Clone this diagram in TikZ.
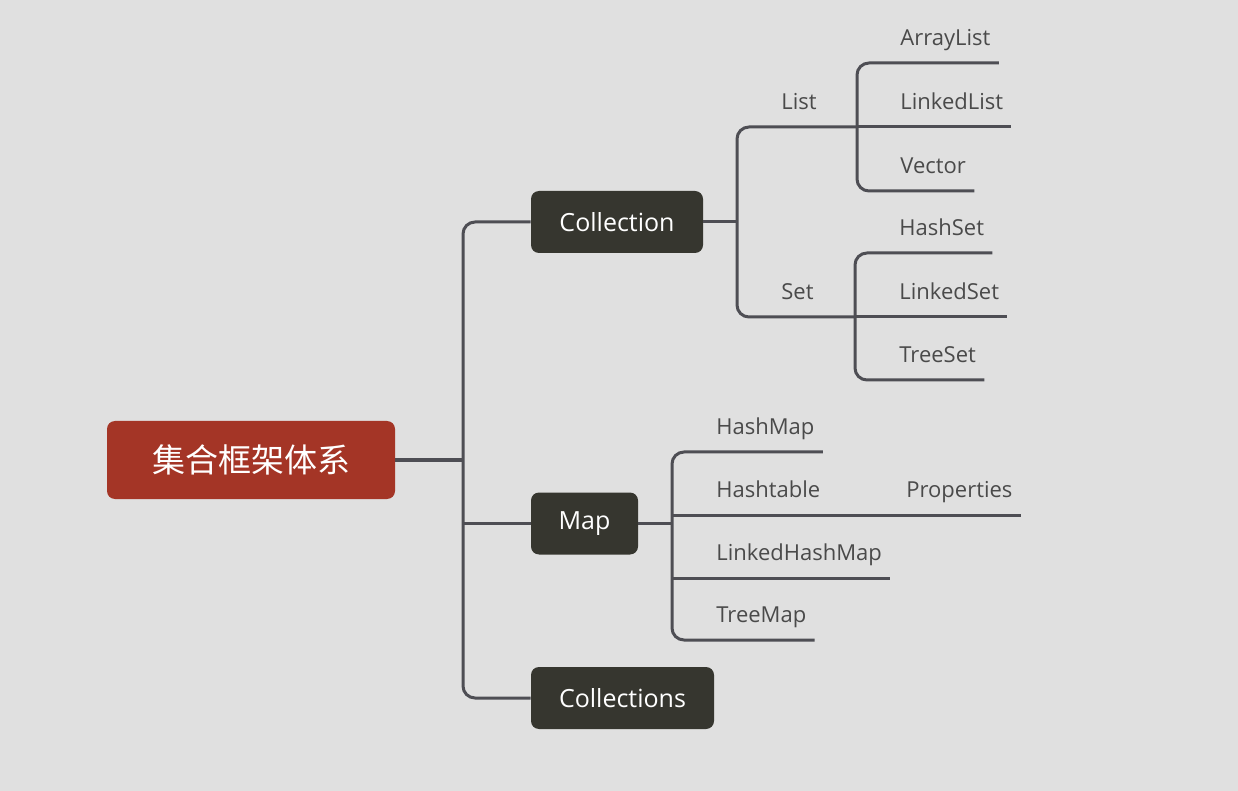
\documentclass[tikz,border=0pt]{standalone}
\usepackage{fontspec}
\setmainfont{Open Sans}
\newfontfamily\cjkfont{Noto Sans CJK SC}
\definecolor{bg}{HTML}{E0E0E0}
\definecolor{rootred}{HTML}{A43526}
\definecolor{topicgray}{HTML}{36362F}
\definecolor{branch}{HTML}{4E4E54}
\definecolor{leaftext}{HTML}{4A4A4A}
\tikzset{
	conn/.style={draw=branch, line width=1.5pt, rounded corners=6pt},
	rootbox/.style={fill=rootred, text=white, rounded corners=4pt, minimum width=144pt, minimum height=39pt, font=\cjkfont\fontsize{16.5}{18}\selectfont},
	topicbox/.style={fill=topicgray, text=white, rounded corners=4pt, minimum height=31pt, font=\fontsize{12.5}{14}\selectfont},
	leaf/.style={anchor=south west, inner xsep=4pt, inner ysep=8.5pt, text depth=0pt, text=leaftext, font=\fontsize{11}{13}\selectfont},
}
\begin{document}
\begin{tikzpicture}[x=0.5pt, y=-0.5pt]
	\fill[bg] (0,0) rectangle (1238,791);
	\useasboundingbox (0,0) rectangle (1238,791);
	% junctions
	\coordinate (rj) at (463,460);
	\coordinate (cj) at (737,222);
	\coordinate (lj) at (857,127);
	\coordinate (sj) at (855,317);
	\coordinate (mj) at (672,523.5);
	% main topics
	\node[rootbox] (root) at (251,460) {集合框架体系};
	\node[topicbox, minimum width=86pt] (coll) at (617,222) {Collection};
	\node[topicbox, minimum width=53.5pt] (map) at (584.5,523.5) {Map};
	\node[topicbox, minimum width=91.5pt] (colls) at (622.5,698) {Collections};
	% subtopics
	\node[leaf] (list) at (773,127) {List};
	\node[leaf] (set) at (773,317) {Set};
	\node[leaf] (al) at (892,63) {ArrayList};
	\node[leaf] (ll) at (892,127) {LinkedList};
	\node[leaf] (vec) at (892,191) {Vector};
	\node[leaf] (hs) at (891,253) {HashSet};
	\node[leaf] (ls) at (891,317) {LinkedSet};
	\node[leaf] (ts) at (891,380) {TreeSet};
	\node[leaf] (hm) at (708,452) {HashMap};
	\node[leaf] (ht) at (708,515) {Hashtable};
	\node[leaf] (lhm) at (708,578) {LinkedHashMap};
	\node[leaf] (tm) at (708,640) {TreeMap};
	\node[leaf] (prop) at (898,515) {Properties};
	% connectors
	\draw[conn] (root.east) -- (rj);
	\draw[conn] (coll.west) -| (rj) |- (colls.west);
	\draw[conn] (rj |- map.west) -- (map.west);
	\draw[conn] (coll.east) -- (cj);
	\draw[conn] (lj) -| (cj) |- (sj);
	\draw[conn] (al.south east) -| (lj) |- (vec.south east);
	\draw[conn] (lj) -- (ll.south east);
	\draw[conn] (hs.south east) -| (sj) |- (ts.south east);
	\draw[conn] (sj) -- (ls.south east);
	\draw[conn] (map.east) -- (mj);
	\draw[conn] (hm.south east) -| (mj) |- (tm.south east);
	\draw[conn] (mj |- ht.south west) -- (prop.south east);
	\draw[conn] (mj |- lhm.south west) -- (lhm.south east);
\end{tikzpicture}
\end{document}
